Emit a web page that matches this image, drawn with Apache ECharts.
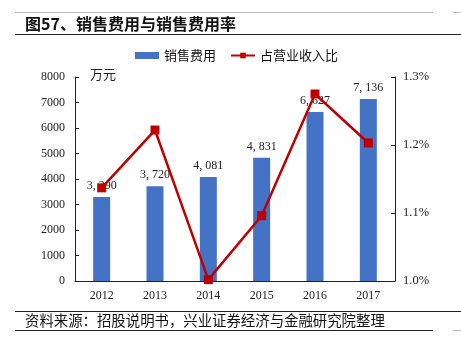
<!DOCTYPE html>
<html><head><meta charset="utf-8">
<script src="https://cdn.jsdelivr.net/npm/echarts@6/dist/echarts.min.js"></script>
<style>html,body{margin:0;padding:0;background:#fff;}#c{width:461px;height:342px;}</style>
</head><body><div id="c"></div>
<script>
const categories = ['2012','2013','2014','2015','2016','2017'];
const salesExpense = [3290, 3720, 4081, 4831, 6627, 7136];
const expenseRatio = [1.137, 1.222, 1.002, 1.096, 1.275, 1.203];
const leftTicks = [0, 1000, 2000, 3000, 4000, 5000, 6000, 7000, 8000];
const rightTicks = ['1.0%', '1.1%', '1.2%', '1.3%'];

const serif = '"Liberation Serif", "DejaVu Serif", serif';
const cjk = '"Noto Sans CJK SC", sans-serif';
const chart = echarts.init(document.getElementById('c'));
chart.setOption({
  animation: false,
  backgroundColor: '#fff',
  grid: {left: 75, right: 66, top: 77, bottom: 61},
  legend: {
    top: 44, left: 130,
    itemGap: 14, itemWidth: 24, itemHeight: 7,
    textStyle: {fontFamily: cjk, fontSize: 13, color: '#111'},
    data: [{name: '销售费用', icon: 'rect'}, {name: '占营业收入比'}]
  },
  graphic: [
    {type: 'line', shape: {x1: 15, y1: 12.5, x2: 433, y2: 12.5}, style: {stroke: '#bbb', lineWidth: 1}},
    {type: 'line', shape: {x1: 453, y1: 12.5, x2: 461, y2: 12.5}, style: {stroke: '#bbb', lineWidth: 1}},
    {type: 'text', left: 25, top: 16, style: {text: '图57、销售费用与销售费用率', font: 'bold 16px ' + cjk, fill: '#111'}},
    {type: 'line', shape: {x1: 15, y1: 34.5, x2: 461, y2: 34.5}, style: {stroke: '#222', lineWidth: 1.2}},
    {type: 'text', left: 90, top: 68, style: {text: '万元', font: '13px ' + cjk, fill: '#222'}},
    {type: 'line', shape: {x1: 15, y1: 311.5, x2: 461, y2: 311.5}, style: {stroke: '#222', lineWidth: 1}},
    {type: 'text', left: 25, top: 313, style: {text: '资料来源：招股说明书，兴业证券经济与金融研究院整理', font: '14.4px ' + cjk, fill: '#111'}},
    {type: 'line', shape: {x1: 15, y1: 330.5, x2: 433, y2: 330.5}, style: {stroke: '#222', lineWidth: 1}},
    {type: 'line', shape: {x1: 453, y1: 330.5, x2: 461, y2: 330.5}, style: {stroke: '#bbb', lineWidth: 1}}
  ],
  xAxis: {
    type: 'category', data: categories,
    axisLine: {lineStyle: {color: '#222', width: 1}},
    axisTick: {inside: true, length: 4, lineStyle: {color: '#222'}},
    axisLabel: {fontFamily: serif, fontSize: 12, color: '#222', margin: 9}
  },
  yAxis: [
    {type: 'value', min: 0, max: 8000, interval: 1000,
     axisLine: {show: true, lineStyle: {color: '#222'}},
     axisTick: {show: true, inside: true, length: 4, lineStyle: {color: '#222'}},
     splitLine: {show: false},
     axisLabel: {fontFamily: serif, fontSize: 12, color: '#222', margin: 10,
       formatter: v => leftTicks.includes(v) ? String(v) : ''}},
    {type: 'value', min: 1.0, max: 1.3, interval: 0.1, position: 'right',
     axisLine: {show: true, lineStyle: {color: '#222'}},
     axisTick: {show: true, inside: true, length: 4, lineStyle: {color: '#222'}},
     splitLine: {show: false},
     axisLabel: {fontFamily: serif, fontSize: 12.5, color: '#222', margin: 8,
       formatter: v => rightTicks[Math.round((v - 1.0) * 10)] || ''}}
  ],
  series: [
    {name: '销售费用', type: 'bar', data: salesExpense, barWidth: 17,
     itemStyle: {color: '#4472C4'},
     label: {show: true, position: 'top', distance: 5, fontFamily: serif, fontSize: 12, color: '#222',
       formatter: p => p.value.toLocaleString('en-US').replace(',', ', ')}},
    {name: '占营业收入比', type: 'line', yAxisIndex: 1, data: expenseRatio,
     symbol: 'rect', symbolSize: 9,
     lineStyle: {color: '#C00000', width: 2.5},
     itemStyle: {color: '#C00000'}}
  ]
});
</script></body></html>
